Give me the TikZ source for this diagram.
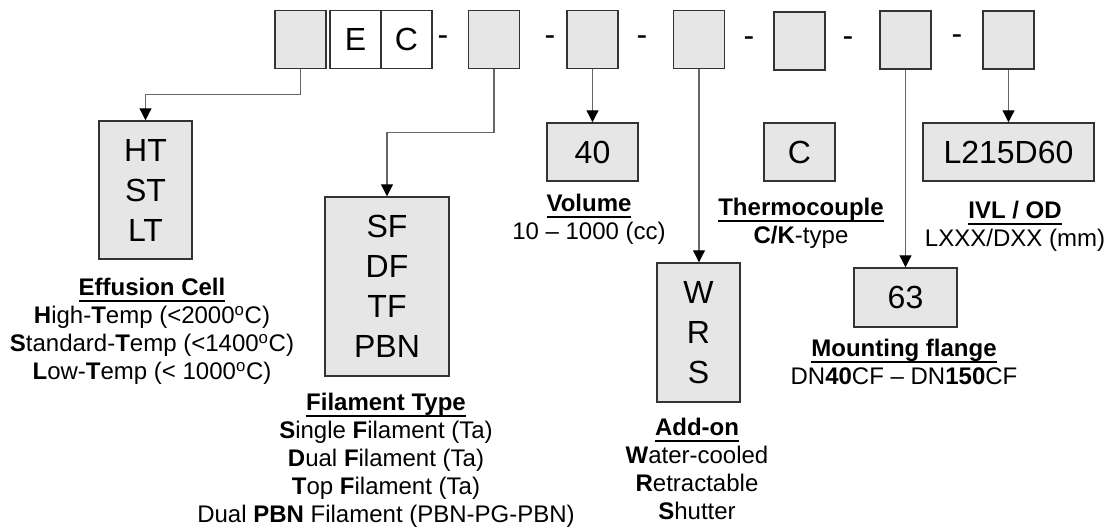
\documentclass[tikz,border=0pt]{standalone}
\usepackage{fontspec}
\setmainfont{Liberation Sans}
\usetikzlibrary{arrows.meta}
\definecolor{boxfill}{HTML}{E6E6E6}
\definecolor{boxline}{HTML}{333333}
\definecolor{wire}{HTML}{666666}
\newcommand{\uln}[1]{\setbox0\hbox{#1}\rlap{\rule[-4.5pt]{\wd0}{1.3pt}}\box0}
\begin{document}
\begin{tikzpicture}[x=0.75pt,y=-0.75pt,
  cell/.style={draw=boxline,fill=boxfill,line width=1.1pt,inner sep=0pt,
    font=\fontsize{24}{30}\selectfont,align=center},
  topcell/.style={cell,minimum width=38.25pt,minimum height=43.5pt},
  wcell/.style={topcell,fill=white},
  lbl/.style={anchor=north,inner sep=0pt,align=center,font=\fontsize{18}{21}\selectfont},
  dsh/.style={inner sep=0pt,font=\fontsize{24}{30}\selectfont},
  conn/.style={draw=wire,line width=0.9pt,-{Triangle[width=9pt,length=9pt,color=black]}}
]
\useasboundingbox (0,0) rectangle (1115,531);

% top row
\node[topcell] (b1) at (300.5,39.5) {};
\node[wcell] (e) at (355.5,39.5) {E};
\node[wcell] (c) at (406.5,39.5) {C};
\node[dsh] (d1) at (443,41) {-};
\node[topcell] (b2) at (494,39.5) {};
\node[dsh] (d2) at (550,41) {-};
\node[topcell] (b3) at (592.5,39.5) {};
\node[dsh] (d3) at (642,41) {-};
\node[topcell] (b4) at (699,39.5) {};
\node[dsh] (d4) at (749,42) {-};
\node[topcell] (b5) at (799.5,41) {};
\node[dsh] (d5) at (848,42) {-};
\node[topcell] (b6) at (905.5,40) {};
\node[dsh] (d6) at (957,40) {-};
\node[topcell] (b7) at (1008.5,40) {};

% option boxes
\node[cell,minimum width=69.75pt,minimum height=103.5pt] (ht) at (145.5,190) {HT\\ST\\LT};
\node[cell,minimum width=93pt,minimum height=134.25pt] (sf) at (387,286.5) {SF\\DF\\TF\\PBN};
\node[cell,minimum width=68.25pt,minimum height=43.5pt] (v40) at (592.5,152) {40};
\node[cell,minimum width=62.25pt,minimum height=104.25pt] (wrs) at (698.5,332.5) {W\\R\\S};
\node[cell,minimum width=53.25pt,minimum height=43.5pt] (cc) at (799.5,152) {C};
\node[cell,minimum width=77.25pt,minimum height=44.25pt] (f63) at (905.5,297.5) {63};
\node[cell,minimum width=128.25pt,minimum height=43.5pt] (ivl) at (1008.5,152) {L215D60};

% connectors
\draw[conn] (b1.south) -- ++(0,25) -| (ht.north);
\draw[conn] (b2.south) -- ++(0,63) -| (sf.north);
\draw[conn] (b3.south) -- (b3.south |- v40.north);
\draw[conn] (b4.south) -- (b4.south |- wrs.north);
\draw[conn] (b6.south) -- (b6.south |- f63.north);
\draw[conn] (b7.south) -- (b7.south |- ivl.north);

% labels
\node[lbl] (l1) at (152,278) {\uln{\textbf{Effusion Cell}}\\
  \textbf{H}igh-\textbf{T}emp (<2000\textsuperscript{o}C)\\
  \textbf{S}tandard-\textbf{T}emp (<1400\textsuperscript{o}C)\\
  \textbf{L}ow-\textbf{T}emp (< 1000\textsuperscript{o}C)};
\node[lbl] (l2) at (386,393) {\uln{\textbf{Filament Type}}\\
  \textbf{S}ingle \textbf{F}ilament (Ta)\\
  \textbf{D}ual \textbf{F}ilament (Ta)\\
  \textbf{T}op \textbf{F}ilament (Ta)\\
  Dual \textbf{PBN} Filament (PBN-PG-PBN)};
\node[lbl] (l3) at (589,194) {\uln{\textbf{Volume}}\\ 10 \textendash{} 1000 (cc)};
\node[lbl] (l4) at (697,418) {\uln{\textbf{Add-on}}\\
  \textbf{W}ater-cooled\\ \textbf{R}etractable\\ \textbf{S}hutter};
\node[lbl] (l5) at (801,198) {\uln{\textbf{Thermocouple}}\\ \textbf{C/K}-type};
\node[lbl] (l6) at (904,339) {\uln{\textbf{Mounting flange}}\\
  DN\textbf{40}CF \textendash{} DN\textbf{150}CF};
\node[lbl] (l7) at (1015,201) {\uln{\textbf{IVL / OD}}\\ LXXX/DXX (mm)};
\end{tikzpicture}
\end{document}
